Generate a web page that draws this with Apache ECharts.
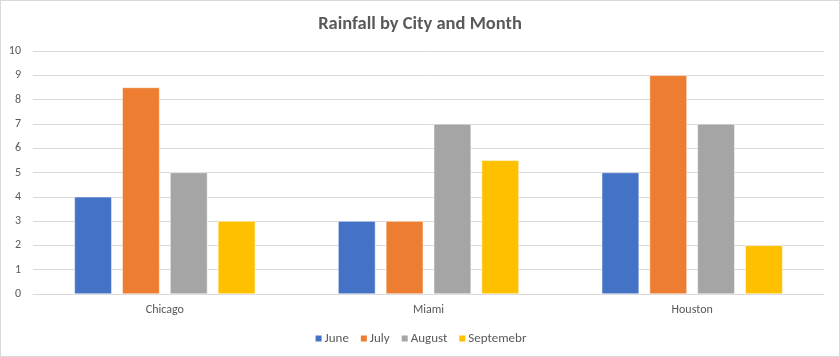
<!DOCTYPE html>
<html><head><meta charset="utf-8">
<script src="https://cdn.jsdelivr.net/npm/echarts@6/dist/echarts.min.js"></script>
<style>
html,body{margin:0;padding:0;background:#fff;}
#c{width:840px;height:357px;box-sizing:border-box;border:1px solid #d9d9d9;}
</style></head><body>
<div id="c"></div>
<script>
const categories = ['Chicago', 'Miami', 'Houston'];
const seriesNames = ['June', 'July', 'August', 'Septemebr'];
const june = [4, 3, 5];
const july = [8.5, 3, 9];
const august = [5, 7, 7];
const september = [3, 5.5, 2];
const yTicks = [0, 10, 1];
const colors = ['#4472C4', '#ED7D31', '#A5A5A5', '#FFC000'];

const chart = echarts.init(document.getElementById('c'), null, {renderer: 'canvas'});
const font = 'Calibri, Carlito, "Open Sans", "Liberation Sans", sans-serif';
const data = [june, july, august, september];
chart.setOption({
  animation: false,
  color: colors,
  title: {text: 'Rainfall by City and Month', left: 'center', top: 9,
    textStyle: {fontFamily: font, fontSize: 18.5, fontWeight: 'bold', color: '#595959'}},
  legend: {bottom: 6, left: 'center', itemWidth: 8, itemHeight: 8, itemGap: 10, icon: 'rect',
    textStyle: {fontFamily: font, fontSize: 13, color: '#595959', padding: [0,0,0,-3]}},
  grid: {left: 32, right: 15, top: 50, bottom: 62},
  xAxis: {type: 'category', data: categories,
    axisLine: {lineStyle: {color: '#d9d9d9', width: 1}}, axisTick: {show: false},
    axisLabel: {fontFamily: font, fontSize: 12, color: '#595959', margin: 10}},
  yAxis: {type: 'value', min: yTicks[0], max: yTicks[1], interval: yTicks[2],
    axisLine: {show: false}, axisTick: {show: false},
    splitLine: {lineStyle: {color: '#d9d9d9', width: 1}},
    axisLabel: {fontFamily: font, fontSize: 12, color: '#595959', margin: 12}},
  series: seriesNames.map((n, i) => ({
    name: n, type: 'bar', data: data[i], barGap: '28%', barCategoryGap: '31.4%',
    itemStyle: {borderColor: '#ffffff', borderWidth: 0.5}
  }))
});
</script></body></html>
